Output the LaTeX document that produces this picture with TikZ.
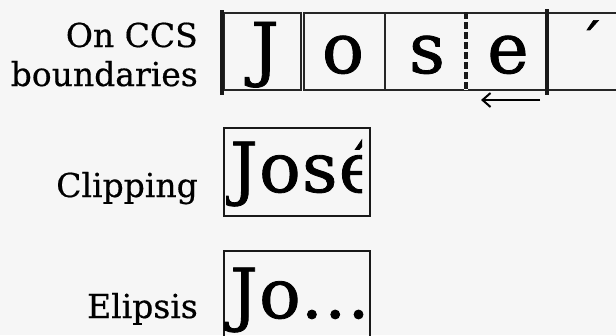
\documentclass[tikz,border=0pt]{standalone}
\usepackage{fontspec}
\setmainfont{DejaVu Serif}[FakeBold=0.5]
\newfontfamily\bigfont{DejaVu Serif}[FakeBold=1.2]
\newfontfamily\bigfontsp{DejaVu Serif}[FakeBold=1.2,LetterSpace=2]
\usetikzlibrary{arrows.meta}
\definecolor{paper}{HTML}{F6F6F6}
\begin{document}
\begin{tikzpicture}[x=1pt,y=-1pt,
  lbl/.style={anchor=base east,inner sep=0pt,font=\fontsize{33}{35}\selectfont},
  big/.style={anchor=base,inner sep=0pt,font=\bigfont\fontsize{70}{72}\selectfont},
  bigw/.style={anchor=base west,inner sep=0pt,font=\bigfontsp\fontsize{69}{72}\selectfont},
  cell/.style={draw=black!85,line width=1.4pt},
  bar/.style={line width=4pt,black!90},
  pane/.style={draw=black!90,line width=2pt}]
\fill[paper] (0,0) rectangle (616,335);
\useasboundingbox (0,0) rectangle (616,335);
% labels
\node[lbl] (l1) at (198,47) {On CCS};
\node[lbl] (l2) at (198,86) {boundaries};
\node[lbl] (l3) at (198,197) {Clipping};
\node[lbl] (l4) at (198,318) {Elipsis};
% top row cells
\draw[cell] (224,13) rectangle (301,90);
\draw[cell] (304,13) rectangle (385,90);
\draw[cell] (385,13) rectangle (466,90);
\draw[cell] (466,13) rectangle (547,90);
\draw[cell] (620,13) -- (547,13) -- (547,90) -- (620,90);
\node[big] (cJ) at (265,73) {J};
\node[big] (co) at (343,73) {o};
\node[big] (cs) at (427,73) {s};
\node[big] (ce) at (508,73) {e};
\node[big,font=\bigfont\fontsize{52}{54}\selectfont] (cacc) at (590,62) {´};
\draw[bar] (222,10) -- (222,95);
\draw[bar] (547,9) -- (547,95);
\draw[line width=4pt,paper] (466,13) -- (466,90);
\draw[line width=4pt,black!90,dash pattern=on 7pt off 3pt] (466,12) -- (466,91);
\coordinate (aS) at (540,100);
\coordinate (aE) at (481,100);
\draw[line width=2.4pt,-{Straight Barb[length=8pt,width=14pt,line width=2pt]}] (aS) -- (aE);
% clipping box
\draw[pane] (224,128) rectangle (370,216);
\begin{scope}
\clip (226,128) rectangle (362,216);
\node[bigw] (jose) at (230,192) {José};
\end{scope}
% ellipsis box
\draw[pane] (370,345) -- (370,251) -- (224,251) -- (224,345);
\node[bigw] (jo) at (230,318) {Jo...};
\end{tikzpicture}
\end{document}
